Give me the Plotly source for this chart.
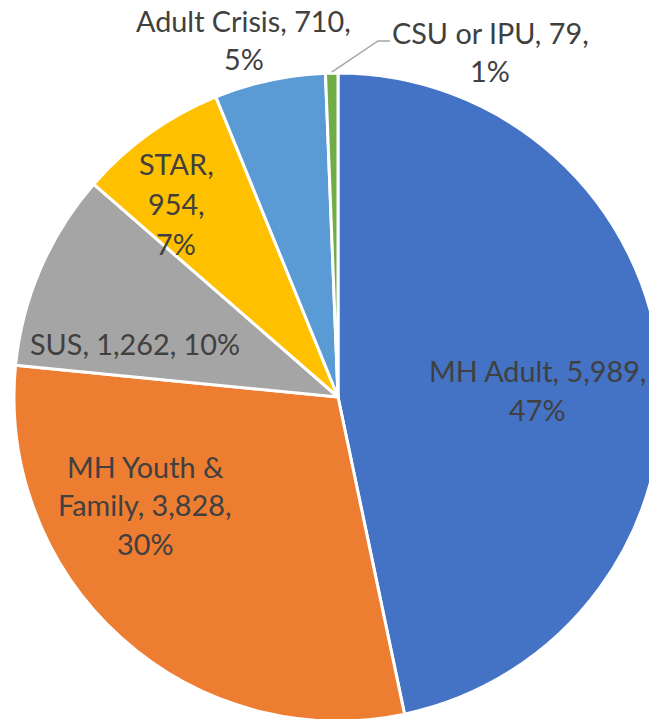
import math
import plotly.graph_objects as go

# ---- data ----
categories = ["MH Adult", "MH Youth & Family", "SUS", "STAR", "Adult Crisis", "CSU or IPU"]
values = [5989, 3828, 1262, 954, 710, 79]
pct_labels = ["47%", "30%", "10%", "7%", "5%", "1%"]
colors = ["#4472C4", "#ED7D31", "#A5A5A5", "#FFC000", "#5B9BD5", "#70AD47"]

# ---- label layout (style) ----
W, H = 657, 719
OFF = 8  # page body margin: figure is drawn 8px right/down of the page origin
line_breaks = [
    lambda c, v, p: [f"{c}, {v:,},", p],
    lambda c, v, p: ["MH Youth &", f"Family, {v:,},", p],
    lambda c, v, p: [f"{c}, {v:,}, {p}"],
    lambda c, v, p: [f"{c},", f"{v:,},", p],
    lambda c, v, p: [f"{c}, {v:,},", p],
    lambda c, v, p: [f"{c}, {v:,},", p],
]
# label block centre x and first-line y (page px)
label_pos = [
    (537, 369.5),
    (145, 465.5),
    (135, 342.5),
    (176, 162.5),
    (243.5, 20),
    (490, 32.5),
]
line_gap = [40, 38.5, 0, 40, 38, 37.5]

# pie geometry (page px)
cx, cy, r = 338, 397, 324
fx = lambda px: (px - OFF) / W
fy = lambda py: 1 - (py - OFF) / H
dom_x = [max(0, fx(cx - r)), min(1, fx(cx + r))]
dom_y = [max(0, fy(cy + r)), min(1, fy(cy - r))]

fig = go.Figure(go.Pie(
    labels=categories,
    values=values,
    sort=False,
    direction="clockwise",
    rotation=0,
    marker=dict(colors=colors, line=dict(color="white", width=3)),
    textinfo="none",
    hoverinfo="label+value+percent",
    domain=dict(x=dom_x, y=dom_y),
    showlegend=False,
))

annotations = []
for i, (c, v, p) in enumerate(zip(categories, values, pct_labels)):
    lines = line_breaks[i](c, v, p)
    x0, y0 = label_pos[i]
    for j, ln in enumerate(lines):
        annotations.append(dict(
            x=fx(x0), y=fy(y0 + j * line_gap[i] + 1),
            xref="paper", yref="paper", xanchor="center", yanchor="middle",
            text=ln, showarrow=False,
            font=dict(family="Lato, Carlito, Calibri, sans-serif", size=28.8, color="#404040"),
        ))

# leader line for the small slice (CSU or IPU)
total = sum(values)
start = sum(values[:-1]) / total
mid = (start + 1.0) / 2 * 2 * math.pi
px_edge = cx + r * math.sin(mid)
py_edge = cy - r * math.cos(mid)
pts = [(px_edge, py_edge - 1), (378, 41), (390, 41)]
path = "M " + " L ".join(f"{fx(x):.5f},{fy(y):.5f}" for x, y in pts)
shapes = [dict(type="path", path=path, xref="paper", yref="paper",
               line=dict(color="#A6A6A6", width=1.5))]

fig.update_layout(
    width=W, height=H,
    margin=dict(l=0, r=0, t=0, b=0),
    paper_bgcolor="white",
    plot_bgcolor="white",
    annotations=annotations,
    shapes=shapes,
)

fig.write_html("out.html")
